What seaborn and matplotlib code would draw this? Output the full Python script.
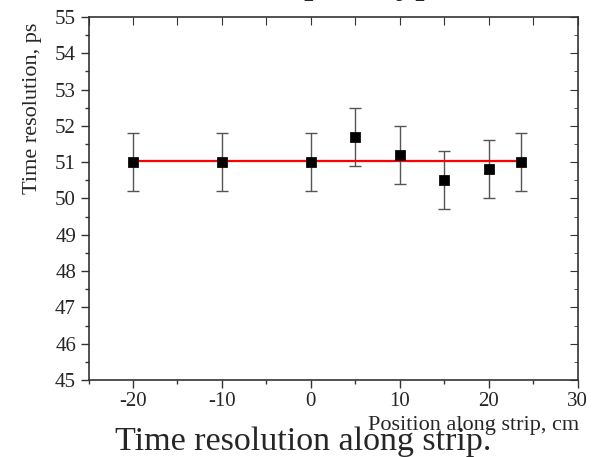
import numpy as np
import pandas as pd
import matplotlib
matplotlib.use("Agg")
import matplotlib.pyplot as plt
import seaborn as sns
from matplotlib.ticker import MultipleLocator

# data
position = [-20, -10, 0, 5, 10, 15, 20, 23.6]
resolution = [51.0, 51.0, 51.0, 51.7, 51.2, 50.5, 50.8, 51.0]
errors = [0.8, 0.8, 0.8, 0.8, 0.8, 0.8, 0.8, 0.8]
fit_x = [-20, 23.6]
fit_y = [51.03, 51.03]

df = pd.DataFrame({"position": position, "resolution": resolution})
fit_df = pd.DataFrame({"position": fit_x, "resolution": fit_y})

sns.set_style("ticks")
plt.rcParams["axes.unicode_minus"] = False
serif = ["Liberation Serif", "DejaVu Serif"]

fig = plt.figure(figsize=(6, 4.57), dpi=100)
ax = fig.add_axes([0.1475, 0.1685, 0.8155, 0.7945])

ax.errorbar(position, resolution, yerr=errors, fmt="none", ecolor="#555555",
            elinewidth=1, capsize=4, capthick=1, zorder=2)
sns.lineplot(data=fit_df, x="position", y="resolution", ax=ax, color="red",
             linewidth=1.6, zorder=3)
sns.scatterplot(data=df, x="position", y="resolution", ax=ax, marker="s",
                color="black", s=45, edgecolor="black", zorder=4)

ax.set_xlim(-25, 30)
ax.set_ylim(45, 55)
ax.xaxis.set_major_locator(MultipleLocator(10))
ax.xaxis.set_minor_locator(MultipleLocator(5))
ax.yaxis.set_major_locator(MultipleLocator(1))
ax.yaxis.set_minor_locator(MultipleLocator(0.5))
ax.set_xticks([-20, -10, 0, 10, 20, 30])
ax.tick_params(which="major", direction="out", length=6, width=1, color="#333333",
               labelsize=15, pad=3)
ax.tick_params(which="minor", direction="out", length=3, width=1, color="#333333")
for lab in ax.get_xticklabels() + ax.get_yticklabels():
    lab.set_family(serif)

for s in ax.spines.values():
    s.set_color("#333333")
    s.set_linewidth(1.2)

ax.set_xlabel("")
ax.set_ylabel("")

# inward ticks on the top and right sides
axr = ax.twinx()
axr.set_ylim(45, 55)
axr.yaxis.set_major_locator(MultipleLocator(1))
axr.yaxis.set_minor_locator(MultipleLocator(0.5))
axr.tick_params(which="major", direction="in", length=6, color="#333333", labelright=False)
axr.tick_params(which="minor", direction="in", length=3, color="#333333")
axt = ax.twiny()
axt.set_xlim(-25, 30)
axt.xaxis.set_major_locator(MultipleLocator(5))
axt.tick_params(which="major", direction="in", length=6, color="#333333", labeltop=False)
for a in (axr, axt):
    for s in a.spines.values():
        s.set_visible(False)

fig.text(33 / 600, 1 - 108 / 457, "Time resolution, ps", rotation=90,
         ha="center", va="center", family=serif, fontsize=16)
fig.text(579 / 600, 1 - 430 / 457, "Position along strip, cm", ha="right",
         va="baseline", family=serif, fontsize=16)
fig.text(303 / 600, 7 / 457, "Time resolution along strip.", ha="center",
         va="baseline", family=serif, fontsize=24.5)
# title above the figure, only its descenders show in the reference
fig.text(303 / 600, 1 + 8 / 457, "prototype", ha="left", va="baseline",
         family=serif, fontsize=28)

fig.savefig("out.png", dpi=100)
